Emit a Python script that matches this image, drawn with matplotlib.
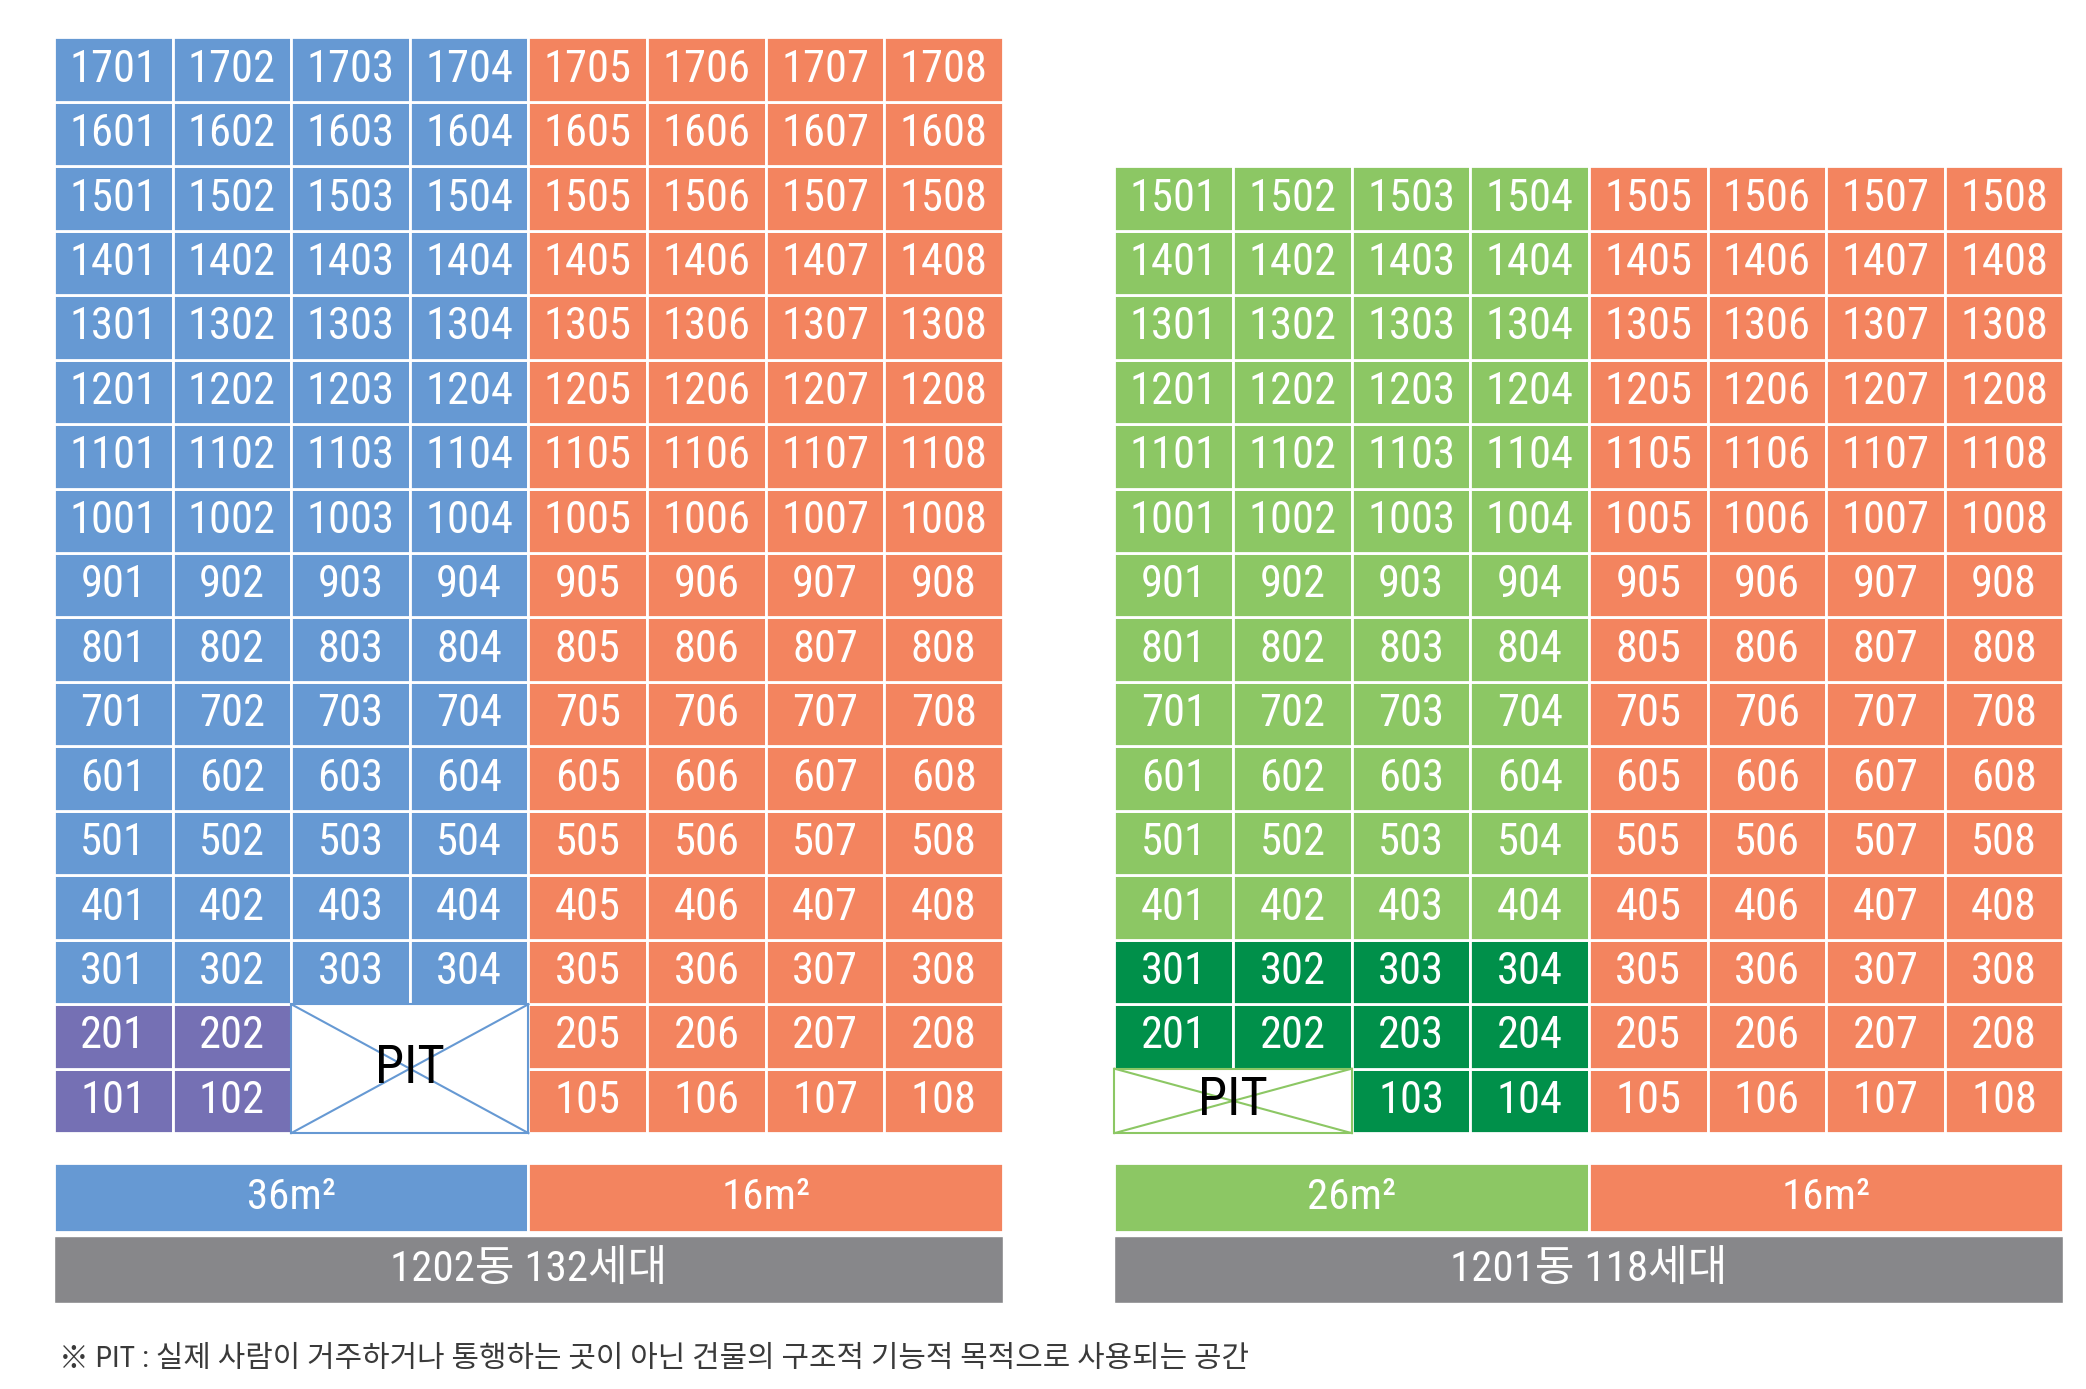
import matplotlib
matplotlib.use("Agg")
import matplotlib.pyplot as plt
from matplotlib.patches import Rectangle
import logging

logging.getLogger("matplotlib.font_manager").setLevel(logging.ERROR)

# building 1202 (left) and 1201 (right)
b1202_floors = list(range(1, 18))
b1202_cols = [1, 2, 3, 4, 5, 6, 7, 8]
b1202_big_cols = [1, 2, 3, 4]          # 36m2 units
b1202_purple = [(2, 1), (2, 2), (1, 1), (1, 2)]   # (floor, col)
b1202_pit = [(1, 3), (1, 4), (2, 3), (2, 4)]

b1201_floors = list(range(1, 16))
b1201_cols = [1, 2, 3, 4, 5, 6, 7, 8]
b1201_big_cols = [1, 2, 3, 4]          # 26m2 units
b1201_dark = [(3, 1), (3, 2), (3, 3), (3, 4), (2, 1), (2, 2), (2, 3), (2, 4), (1, 3), (1, 4)]
b1201_pit = [(1, 1), (1, 2)]

legend_1202 = ["36m²", "16m²"]
legend_1201 = ["26m²", "16m²"]
title_1202 = "1202동 132세대"
title_1201 = "1201동 118세대"
note = "※ PIT : 실제 사람이 거주하거나 통행하는 곳이 아닌 건물의 구조적 기능적 목적으로 사용되는 공간"

BLUE = "#6699D3"
ORANGE = "#F3845F"
PURPLE = "#7570B4"
LGREEN = "#8CC764"
DGREEN = "#00904A"
GRAY = "#87878A"

FONT = ["Roboto Condensed", "Archivo Narrow", "PT Sans Narrow", "Liberation Sans Narrow",
        "Noto Sans CJK KR", "DejaVu Sans"]

fig = plt.figure(figsize=(20.86, 13.89), dpi=100)
ax = fig.add_axes([0, 0, 1, 1])
ax.set_xlim(-0.455, 17.13)
ax.set_ylim(-3.97, 17.58)
ax.axis("off")


def draw_building(off, floors, cols, big_cols, big_color, special, special_color, pit, pit_color):
    for f in floors:
        for c in cols:
            if (f, c) in pit:
                continue
            if (f, c) in special:
                color = special_color
            elif c in big_cols:
                color = big_color
            else:
                color = ORANGE
            ax.bar(off + c - 0.5, 1, bottom=f - 1, width=1, color=color,
                   edgecolor="white", linewidth=2)
            ax.text(off + c - 0.5, f - 0.5, f"{f}{c:02d}", color="white",
                    ha="center", va="center", fontsize=32, family=FONT)
    # pit area
    xs = [c for f, c in pit]
    ys = [f for f, c in pit]
    x0, x1 = off + min(xs) - 1, off + max(xs)
    y0, y1 = min(ys) - 1, max(ys)
    ax.add_patch(Rectangle((x0, y0), x1 - x0, y1 - y0, facecolor="white",
                           edgecolor=pit_color, linewidth=1.5))
    ax.plot([x0, x1], [y0, y1], color=pit_color, linewidth=1.5)
    ax.plot([x0, x1], [y1, y0], color=pit_color, linewidth=1.5)
    ax.text((x0 + x1) / 2, (y0 + y1) / 2, "PIT", color="black",
            ha="center", va="center", fontsize=38, family=FONT)


def draw_legend(off, labels, big_color, title):
    ax.bar(off + 2, 1.06, bottom=-1.53, width=4, color=big_color, edgecolor="white", linewidth=2)
    ax.bar(off + 6, 1.06, bottom=-1.53, width=4, color=ORANGE, edgecolor="white", linewidth=2)
    ax.text(off + 2, -1.0, labels[0], color="white", ha="center", va="center",
            fontsize=31, family=FONT)
    ax.text(off + 6, -1.0, labels[1], color="white", ha="center", va="center",
            fontsize=31, family=FONT)
    ax.bar(off + 4, 1.04, bottom=-2.64, width=8, color=GRAY, edgecolor="white", linewidth=1)
    ax.text(off + 4, -2.12, title, color="white", ha="center", va="center",
            fontsize=31, family=FONT)


draw_building(0, b1202_floors, b1202_cols, b1202_big_cols, BLUE,
              b1202_purple, PURPLE, b1202_pit, BLUE)
draw_building(8.94, b1201_floors, b1201_cols, b1201_big_cols, LGREEN,
              b1201_dark, DGREEN, b1201_pit, LGREEN)
draw_legend(0, legend_1202, BLUE, title_1202)
draw_legend(8.94, legend_1201, LGREEN, title_1201)

ax.text(0.045, -3.5, note, color="#3a3a3a", ha="left", va="center",
        fontsize=21.5, family=FONT)

fig.savefig("out.png", dpi=100, facecolor="white")
